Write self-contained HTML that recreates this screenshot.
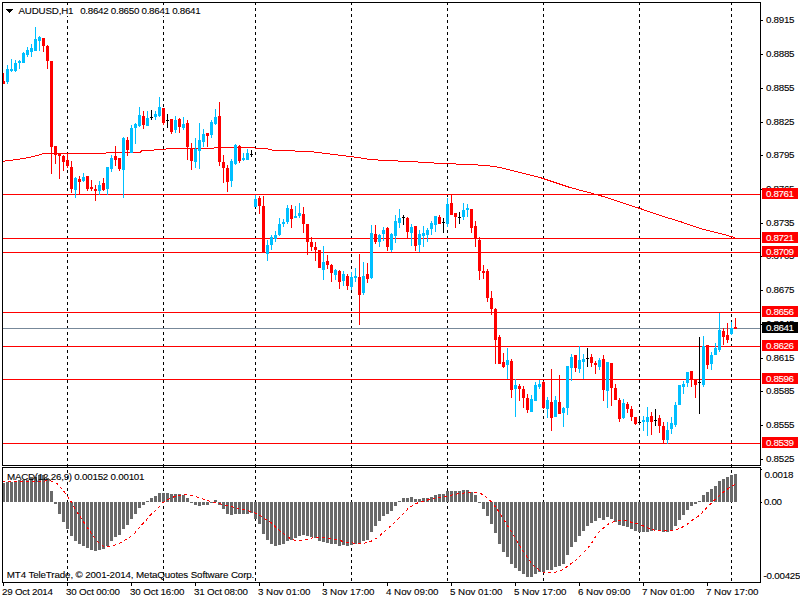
<!DOCTYPE html><html><head><meta charset="utf-8"><style>html,body{margin:0;padding:0;background:#fff;width:800px;height:600px;overflow:hidden}svg{display:block}text{font-family:"Liberation Sans",sans-serif}</style></head><body>
<svg width="800" height="600" viewBox="0 0 800 600">
<rect width="800" height="600" fill="#fff"/>
<g shape-rendering="crispEdges">
<line x1="67.5" y1="2" x2="67.5" y2="582" stroke="#000" stroke-width="1" stroke-dasharray="3 3" shape-rendering="crispEdges"/>
<line x1="163.5" y1="2" x2="163.5" y2="582" stroke="#000" stroke-width="1" stroke-dasharray="3 3" shape-rendering="crispEdges"/>
<line x1="255.5" y1="2" x2="255.5" y2="582" stroke="#000" stroke-width="1" stroke-dasharray="3 3" shape-rendering="crispEdges"/>
<line x1="351.5" y1="2" x2="351.5" y2="582" stroke="#000" stroke-width="1" stroke-dasharray="3 3" shape-rendering="crispEdges"/>
<line x1="447.5" y1="2" x2="447.5" y2="582" stroke="#000" stroke-width="1" stroke-dasharray="3 3" shape-rendering="crispEdges"/>
<line x1="543.5" y1="2" x2="543.5" y2="582" stroke="#000" stroke-width="1" stroke-dasharray="3 3" shape-rendering="crispEdges"/>
<line x1="639.5" y1="2" x2="639.5" y2="582" stroke="#000" stroke-width="1" stroke-dasharray="3 3" shape-rendering="crispEdges"/>
<line x1="731.5" y1="2" x2="731.5" y2="582" stroke="#000" stroke-width="1" stroke-dasharray="3 3" shape-rendering="crispEdges"/>
</g>
<g shape-rendering="crispEdges">
<rect x="3" y="194" width="757" height="1" fill="#ff0000"/>
<rect x="3" y="238" width="757" height="1" fill="#ff0000"/>
<rect x="3" y="252" width="757" height="1" fill="#ff0000"/>
<rect x="3" y="312" width="757" height="1" fill="#ff0000"/>
<rect x="3" y="346" width="757" height="1" fill="#ff0000"/>
<rect x="3" y="379" width="757" height="1" fill="#ff0000"/>
<rect x="3" y="443" width="757" height="1" fill="#ff0000"/>
<rect x="3" y="328" width="757" height="1" fill="#778899"/>
</g>
<polyline points="2,161.5 9,160.5 17,159.5 29,157.5 37,155.5 41,154.5 43,153.5 105,153.5 107,152.5 140,152.5 142,150.5 153,150.5 155,149.5 165,149.5 167,148.5 213,148.5 215,147.5 254,147.5 256,148.5 266,148.5 274,150.5 294,150.5 296,151.5 310,151.5 334,154.5 342,155.5 350,156.5 358,157.5 370,159.5 386,160.5 410,161.5 426,162.5 442,163.5 470,164.5 486,165.5 500,167.5 540,177.5 570,187.5 600,195.5 640,208.5 660,215.5 680,221.5 700,228.5 720,233.5 735,237.5" fill="none" stroke="#ff0000" stroke-width="1" shape-rendering="crispEdges"/>
<g shape-rendering="crispEdges">
<rect x="3" y="73" width="1" height="11" fill="#ff0000"/>
<rect x="3" y="81" width="2" height="3" fill="#ff0000"/>
<rect x="7" y="65" width="1" height="19" fill="#00bfff"/>
<rect x="6" y="69" width="3" height="13" fill="#00bfff"/>
<rect x="11" y="59" width="1" height="13" fill="#00bfff"/>
<rect x="10" y="69" width="3" height="2" fill="#00bfff"/>
<rect x="15" y="60" width="1" height="12" fill="#00bfff"/>
<rect x="14" y="63" width="3" height="8" fill="#00bfff"/>
<rect x="19" y="60" width="1" height="9" fill="#00bfff"/>
<rect x="18" y="61" width="3" height="2" fill="#00bfff"/>
<rect x="23" y="52" width="1" height="11" fill="#00bfff"/>
<rect x="22" y="53" width="3" height="10" fill="#00bfff"/>
<rect x="27" y="47" width="1" height="10" fill="#00bfff"/>
<rect x="26" y="50" width="3" height="5" fill="#00bfff"/>
<rect x="31" y="44" width="1" height="13" fill="#00bfff"/>
<rect x="30" y="48" width="3" height="4" fill="#00bfff"/>
<rect x="35" y="27" width="1" height="24" fill="#00bfff"/>
<rect x="34" y="39" width="3" height="12" fill="#00bfff"/>
<rect x="39" y="36" width="1" height="15" fill="#00bfff"/>
<rect x="38" y="37" width="3" height="4" fill="#00bfff"/>
<rect x="43" y="38" width="1" height="14" fill="#ff0000"/>
<rect x="42" y="38" width="3" height="8" fill="#ff0000"/>
<rect x="47" y="45" width="1" height="24" fill="#ff0000"/>
<rect x="46" y="46" width="3" height="15" fill="#ff0000"/>
<rect x="51" y="61" width="1" height="113" fill="#ff0000"/>
<rect x="50" y="61" width="3" height="86" fill="#ff0000"/>
<rect x="55" y="146" width="1" height="18" fill="#ff0000"/>
<rect x="54" y="146" width="3" height="9" fill="#ff0000"/>
<rect x="59" y="153" width="1" height="26" fill="#ff0000"/>
<rect x="58" y="153" width="3" height="3" fill="#ff0000"/>
<rect x="63" y="155" width="1" height="16" fill="#ff0000"/>
<rect x="62" y="156" width="3" height="6" fill="#ff0000"/>
<rect x="67" y="153" width="1" height="15" fill="#ff0000"/>
<rect x="66" y="160" width="3" height="6" fill="#ff0000"/>
<rect x="71" y="161" width="1" height="32" fill="#ff0000"/>
<rect x="70" y="167" width="3" height="22" fill="#ff0000"/>
<rect x="75" y="177" width="1" height="21" fill="#00bfff"/>
<rect x="74" y="178" width="3" height="12" fill="#00bfff"/>
<rect x="79" y="176" width="1" height="18" fill="#ff0000"/>
<rect x="78" y="179" width="3" height="3" fill="#ff0000"/>
<rect x="83" y="173" width="1" height="9" fill="#00bfff"/>
<rect x="82" y="177" width="3" height="4" fill="#00bfff"/>
<rect x="87" y="176" width="1" height="15" fill="#ff0000"/>
<rect x="86" y="176" width="3" height="13" fill="#ff0000"/>
<rect x="91" y="180" width="1" height="11" fill="#ff0000"/>
<rect x="90" y="187" width="3" height="2" fill="#ff0000"/>
<rect x="95" y="185" width="1" height="16" fill="#ff0000"/>
<rect x="94" y="189" width="3" height="2" fill="#ff0000"/>
<rect x="99" y="181" width="1" height="14" fill="#00bfff"/>
<rect x="98" y="185" width="3" height="6" fill="#00bfff"/>
<rect x="103" y="178" width="1" height="13" fill="#ff0000"/>
<rect x="102" y="183" width="3" height="7" fill="#ff0000"/>
<rect x="107" y="167" width="1" height="28" fill="#00bfff"/>
<rect x="106" y="167" width="3" height="22" fill="#00bfff"/>
<rect x="111" y="155" width="1" height="17" fill="#00bfff"/>
<rect x="110" y="158" width="3" height="11" fill="#00bfff"/>
<rect x="115" y="146" width="1" height="20" fill="#ff0000"/>
<rect x="114" y="156" width="3" height="4" fill="#ff0000"/>
<rect x="119" y="158" width="1" height="13" fill="#ff0000"/>
<rect x="118" y="158" width="3" height="11" fill="#ff0000"/>
<rect x="123" y="137" width="1" height="61" fill="#00bfff"/>
<rect x="122" y="138" width="3" height="32" fill="#00bfff"/>
<rect x="127" y="137" width="1" height="19" fill="#ff0000"/>
<rect x="126" y="140" width="3" height="10" fill="#ff0000"/>
<rect x="131" y="125" width="1" height="28" fill="#00bfff"/>
<rect x="130" y="128" width="3" height="25" fill="#00bfff"/>
<rect x="135" y="123" width="1" height="21" fill="#00bfff"/>
<rect x="134" y="124" width="3" height="4" fill="#00bfff"/>
<rect x="139" y="107" width="1" height="20" fill="#00bfff"/>
<rect x="138" y="115" width="3" height="11" fill="#00bfff"/>
<rect x="143" y="111" width="1" height="18" fill="#ff0000"/>
<rect x="142" y="116" width="3" height="9" fill="#ff0000"/>
<rect x="147" y="111" width="1" height="15" fill="#00bfff"/>
<rect x="146" y="118" width="3" height="8" fill="#00bfff"/>
<rect x="151" y="110" width="1" height="10" fill="#000"/>
<rect x="150" y="117" width="3" height="1" fill="#000"/>
<rect x="155" y="111" width="1" height="9" fill="#00bfff"/>
<rect x="154" y="114" width="3" height="3" fill="#00bfff"/>
<rect x="159" y="97" width="1" height="20" fill="#00bfff"/>
<rect x="158" y="107" width="3" height="9" fill="#00bfff"/>
<rect x="163" y="108" width="1" height="17" fill="#ff0000"/>
<rect x="162" y="108" width="3" height="15" fill="#ff0000"/>
<rect x="167" y="114" width="1" height="14" fill="#000"/>
<rect x="166" y="120" width="3" height="1" fill="#000"/>
<rect x="171" y="119" width="1" height="15" fill="#ff0000"/>
<rect x="170" y="119" width="3" height="13" fill="#ff0000"/>
<rect x="175" y="116" width="1" height="17" fill="#00bfff"/>
<rect x="174" y="120" width="3" height="10" fill="#00bfff"/>
<rect x="179" y="118" width="1" height="15" fill="#ff0000"/>
<rect x="178" y="119" width="3" height="8" fill="#ff0000"/>
<rect x="183" y="117" width="1" height="13" fill="#00bfff"/>
<rect x="182" y="124" width="3" height="4" fill="#00bfff"/>
<rect x="187" y="120" width="1" height="40" fill="#ff0000"/>
<rect x="186" y="123" width="3" height="24" fill="#ff0000"/>
<rect x="191" y="143" width="1" height="27" fill="#ff0000"/>
<rect x="190" y="148" width="3" height="13" fill="#ff0000"/>
<rect x="195" y="138" width="1" height="30" fill="#00bfff"/>
<rect x="194" y="149" width="3" height="13" fill="#00bfff"/>
<rect x="199" y="123" width="1" height="46" fill="#00bfff"/>
<rect x="198" y="140" width="3" height="11" fill="#00bfff"/>
<rect x="203" y="129" width="1" height="18" fill="#00bfff"/>
<rect x="202" y="134" width="3" height="8" fill="#00bfff"/>
<rect x="207" y="133" width="1" height="14" fill="#ff0000"/>
<rect x="206" y="133" width="3" height="3" fill="#ff0000"/>
<rect x="211" y="120" width="1" height="18" fill="#00bfff"/>
<rect x="210" y="122" width="3" height="13" fill="#00bfff"/>
<rect x="215" y="109" width="1" height="16" fill="#00bfff"/>
<rect x="214" y="117" width="3" height="7" fill="#00bfff"/>
<rect x="219" y="102" width="1" height="64" fill="#ff0000"/>
<rect x="218" y="116" width="3" height="46" fill="#ff0000"/>
<rect x="223" y="155" width="1" height="28" fill="#ff0000"/>
<rect x="222" y="162" width="3" height="6" fill="#ff0000"/>
<rect x="227" y="165" width="1" height="27" fill="#ff0000"/>
<rect x="226" y="168" width="3" height="14" fill="#ff0000"/>
<rect x="231" y="159" width="1" height="28" fill="#00bfff"/>
<rect x="230" y="161" width="3" height="20" fill="#00bfff"/>
<rect x="235" y="144" width="1" height="21" fill="#00bfff"/>
<rect x="234" y="145" width="3" height="19" fill="#00bfff"/>
<rect x="239" y="145" width="1" height="18" fill="#ff0000"/>
<rect x="238" y="146" width="3" height="15" fill="#ff0000"/>
<rect x="243" y="153" width="1" height="8" fill="#00bfff"/>
<rect x="242" y="158" width="3" height="2" fill="#00bfff"/>
<rect x="247" y="149" width="1" height="11" fill="#00bfff"/>
<rect x="246" y="153" width="3" height="7" fill="#00bfff"/>
<rect x="251" y="150" width="1" height="7" fill="#000"/>
<rect x="250" y="154" width="3" height="1" fill="#000"/>
<rect x="255" y="195" width="1" height="12" fill="#00bfff"/>
<rect x="254" y="199" width="3" height="8" fill="#00bfff"/>
<rect x="259" y="196" width="1" height="18" fill="#ff0000"/>
<rect x="258" y="198" width="3" height="8" fill="#ff0000"/>
<rect x="263" y="196" width="1" height="56" fill="#ff0000"/>
<rect x="262" y="206" width="3" height="46" fill="#ff0000"/>
<rect x="267" y="240" width="1" height="21" fill="#00bfff"/>
<rect x="266" y="245" width="3" height="9" fill="#00bfff"/>
<rect x="271" y="235" width="1" height="15" fill="#00bfff"/>
<rect x="270" y="237" width="3" height="8" fill="#00bfff"/>
<rect x="275" y="231" width="1" height="11" fill="#00bfff"/>
<rect x="274" y="235" width="3" height="4" fill="#00bfff"/>
<rect x="279" y="218" width="1" height="18" fill="#00bfff"/>
<rect x="278" y="224" width="3" height="11" fill="#00bfff"/>
<rect x="283" y="219" width="1" height="8" fill="#00bfff"/>
<rect x="282" y="222" width="3" height="2" fill="#00bfff"/>
<rect x="287" y="205" width="1" height="19" fill="#00bfff"/>
<rect x="286" y="208" width="3" height="14" fill="#00bfff"/>
<rect x="291" y="205" width="1" height="23" fill="#ff0000"/>
<rect x="290" y="209" width="3" height="10" fill="#ff0000"/>
<rect x="295" y="206" width="1" height="12" fill="#00bfff"/>
<rect x="294" y="216" width="3" height="2" fill="#00bfff"/>
<rect x="299" y="203" width="1" height="15" fill="#00bfff"/>
<rect x="298" y="213" width="3" height="3" fill="#00bfff"/>
<rect x="303" y="207" width="1" height="26" fill="#ff0000"/>
<rect x="302" y="214" width="3" height="10" fill="#ff0000"/>
<rect x="307" y="224" width="1" height="31" fill="#ff0000"/>
<rect x="306" y="224" width="3" height="18" fill="#ff0000"/>
<rect x="311" y="237" width="1" height="14" fill="#ff0000"/>
<rect x="310" y="242" width="3" height="5" fill="#ff0000"/>
<rect x="315" y="242" width="1" height="19" fill="#ff0000"/>
<rect x="314" y="247" width="3" height="3" fill="#ff0000"/>
<rect x="319" y="250" width="1" height="18" fill="#ff0000"/>
<rect x="318" y="250" width="3" height="18" fill="#ff0000"/>
<rect x="323" y="246" width="1" height="34" fill="#00bfff"/>
<rect x="322" y="262" width="3" height="8" fill="#00bfff"/>
<rect x="327" y="255" width="1" height="14" fill="#ff0000"/>
<rect x="326" y="261" width="3" height="4" fill="#ff0000"/>
<rect x="331" y="264" width="1" height="18" fill="#ff0000"/>
<rect x="330" y="265" width="3" height="8" fill="#ff0000"/>
<rect x="335" y="269" width="1" height="11" fill="#00bfff"/>
<rect x="334" y="270" width="3" height="5" fill="#00bfff"/>
<rect x="339" y="270" width="1" height="19" fill="#ff0000"/>
<rect x="338" y="271" width="3" height="11" fill="#ff0000"/>
<rect x="343" y="271" width="1" height="15" fill="#00bfff"/>
<rect x="342" y="274" width="3" height="7" fill="#00bfff"/>
<rect x="347" y="274" width="1" height="16" fill="#ff0000"/>
<rect x="346" y="276" width="3" height="10" fill="#ff0000"/>
<rect x="351" y="272" width="1" height="18" fill="#00bfff"/>
<rect x="350" y="277" width="3" height="10" fill="#00bfff"/>
<rect x="355" y="268" width="1" height="14" fill="#00bfff"/>
<rect x="354" y="276" width="3" height="2" fill="#00bfff"/>
<rect x="359" y="254" width="1" height="71" fill="#ff0000"/>
<rect x="358" y="277" width="3" height="18" fill="#ff0000"/>
<rect x="363" y="262" width="1" height="33" fill="#00bfff"/>
<rect x="362" y="276" width="3" height="17" fill="#00bfff"/>
<rect x="367" y="263" width="1" height="20" fill="#ff0000"/>
<rect x="366" y="274" width="3" height="5" fill="#ff0000"/>
<rect x="371" y="225" width="1" height="54" fill="#00bfff"/>
<rect x="370" y="233" width="3" height="45" fill="#00bfff"/>
<rect x="375" y="225" width="1" height="19" fill="#ff0000"/>
<rect x="374" y="234" width="3" height="8" fill="#ff0000"/>
<rect x="379" y="234" width="1" height="13" fill="#00bfff"/>
<rect x="378" y="235" width="3" height="7" fill="#00bfff"/>
<rect x="383" y="227" width="1" height="14" fill="#00bfff"/>
<rect x="382" y="230" width="3" height="4" fill="#00bfff"/>
<rect x="387" y="227" width="1" height="24" fill="#ff0000"/>
<rect x="386" y="228" width="3" height="19" fill="#ff0000"/>
<rect x="391" y="233" width="1" height="19" fill="#00bfff"/>
<rect x="390" y="234" width="3" height="16" fill="#00bfff"/>
<rect x="395" y="215" width="1" height="28" fill="#00bfff"/>
<rect x="394" y="221" width="3" height="15" fill="#00bfff"/>
<rect x="399" y="209" width="1" height="19" fill="#00bfff"/>
<rect x="398" y="218" width="3" height="5" fill="#00bfff"/>
<rect x="403" y="215" width="1" height="10" fill="#000"/>
<rect x="402" y="217" width="3" height="1" fill="#000"/>
<rect x="407" y="217" width="1" height="21" fill="#ff0000"/>
<rect x="406" y="218" width="3" height="14" fill="#ff0000"/>
<rect x="411" y="224" width="1" height="22" fill="#00bfff"/>
<rect x="410" y="227" width="3" height="6" fill="#00bfff"/>
<rect x="415" y="226" width="1" height="25" fill="#ff0000"/>
<rect x="414" y="226" width="3" height="20" fill="#ff0000"/>
<rect x="419" y="230" width="1" height="22" fill="#00bfff"/>
<rect x="418" y="234" width="3" height="11" fill="#00bfff"/>
<rect x="423" y="226" width="1" height="21" fill="#00bfff"/>
<rect x="422" y="233" width="3" height="3" fill="#00bfff"/>
<rect x="427" y="228" width="1" height="14" fill="#00bfff"/>
<rect x="426" y="230" width="3" height="5" fill="#00bfff"/>
<rect x="431" y="221" width="1" height="14" fill="#00bfff"/>
<rect x="430" y="223" width="3" height="6" fill="#00bfff"/>
<rect x="435" y="216" width="1" height="16" fill="#00bfff"/>
<rect x="434" y="216" width="3" height="9" fill="#00bfff"/>
<rect x="439" y="215" width="1" height="9" fill="#ff0000"/>
<rect x="438" y="217" width="3" height="7" fill="#ff0000"/>
<rect x="443" y="218" width="1" height="15" fill="#000"/>
<rect x="442" y="222" width="3" height="1" fill="#000"/>
<rect x="447" y="198" width="1" height="29" fill="#00bfff"/>
<rect x="446" y="204" width="3" height="20" fill="#00bfff"/>
<rect x="451" y="195" width="1" height="20" fill="#ff0000"/>
<rect x="450" y="203" width="3" height="12" fill="#ff0000"/>
<rect x="455" y="213" width="1" height="15" fill="#ff0000"/>
<rect x="454" y="213" width="3" height="4" fill="#ff0000"/>
<rect x="459" y="212" width="1" height="12" fill="#000"/>
<rect x="458" y="217" width="3" height="1" fill="#000"/>
<rect x="463" y="203" width="1" height="17" fill="#00bfff"/>
<rect x="462" y="210" width="3" height="7" fill="#00bfff"/>
<rect x="467" y="204" width="1" height="13" fill="#00bfff"/>
<rect x="466" y="208" width="3" height="2" fill="#00bfff"/>
<rect x="471" y="209" width="1" height="24" fill="#ff0000"/>
<rect x="470" y="209" width="3" height="19" fill="#ff0000"/>
<rect x="475" y="221" width="1" height="26" fill="#ff0000"/>
<rect x="474" y="226" width="3" height="12" fill="#ff0000"/>
<rect x="479" y="237" width="1" height="43" fill="#ff0000"/>
<rect x="478" y="240" width="3" height="31" fill="#ff0000"/>
<rect x="483" y="265" width="1" height="14" fill="#ff0000"/>
<rect x="482" y="271" width="3" height="2" fill="#ff0000"/>
<rect x="487" y="269" width="1" height="33" fill="#ff0000"/>
<rect x="486" y="271" width="3" height="27" fill="#ff0000"/>
<rect x="491" y="291" width="1" height="24" fill="#ff0000"/>
<rect x="490" y="298" width="3" height="11" fill="#ff0000"/>
<rect x="495" y="308" width="1" height="56" fill="#ff0000"/>
<rect x="494" y="309" width="3" height="31" fill="#ff0000"/>
<rect x="499" y="335" width="1" height="29" fill="#ff0000"/>
<rect x="498" y="337" width="3" height="27" fill="#ff0000"/>
<rect x="503" y="353" width="1" height="15" fill="#ff0000"/>
<rect x="502" y="362" width="3" height="5" fill="#ff0000"/>
<rect x="507" y="348" width="1" height="31" fill="#00bfff"/>
<rect x="506" y="360" width="3" height="5" fill="#00bfff"/>
<rect x="511" y="359" width="1" height="39" fill="#ff0000"/>
<rect x="510" y="361" width="3" height="29" fill="#ff0000"/>
<rect x="515" y="379" width="1" height="38" fill="#00bfff"/>
<rect x="514" y="385" width="3" height="4" fill="#00bfff"/>
<rect x="519" y="384" width="1" height="17" fill="#ff0000"/>
<rect x="518" y="386" width="3" height="3" fill="#ff0000"/>
<rect x="523" y="386" width="1" height="22" fill="#ff0000"/>
<rect x="522" y="389" width="3" height="9" fill="#ff0000"/>
<rect x="527" y="394" width="1" height="19" fill="#ff0000"/>
<rect x="526" y="398" width="3" height="12" fill="#ff0000"/>
<rect x="531" y="395" width="1" height="17" fill="#00bfff"/>
<rect x="530" y="399" width="3" height="13" fill="#00bfff"/>
<rect x="535" y="382" width="1" height="19" fill="#00bfff"/>
<rect x="534" y="385" width="3" height="16" fill="#00bfff"/>
<rect x="539" y="380" width="1" height="9" fill="#00bfff"/>
<rect x="538" y="384" width="3" height="3" fill="#00bfff"/>
<rect x="543" y="381" width="1" height="28" fill="#ff0000"/>
<rect x="542" y="382" width="3" height="26" fill="#ff0000"/>
<rect x="547" y="397" width="1" height="21" fill="#00bfff"/>
<rect x="546" y="400" width="3" height="9" fill="#00bfff"/>
<rect x="551" y="369" width="1" height="62" fill="#ff0000"/>
<rect x="550" y="402" width="3" height="16" fill="#ff0000"/>
<rect x="555" y="396" width="1" height="21" fill="#00bfff"/>
<rect x="554" y="400" width="3" height="17" fill="#00bfff"/>
<rect x="559" y="375" width="1" height="39" fill="#ff0000"/>
<rect x="558" y="402" width="3" height="12" fill="#ff0000"/>
<rect x="563" y="407" width="1" height="20" fill="#00bfff"/>
<rect x="562" y="408" width="3" height="5" fill="#00bfff"/>
<rect x="567" y="366" width="1" height="49" fill="#00bfff"/>
<rect x="566" y="366" width="3" height="42" fill="#00bfff"/>
<rect x="571" y="354" width="1" height="27" fill="#00bfff"/>
<rect x="570" y="357" width="3" height="11" fill="#00bfff"/>
<rect x="575" y="355" width="1" height="17" fill="#ff0000"/>
<rect x="574" y="355" width="3" height="13" fill="#ff0000"/>
<rect x="579" y="346" width="1" height="27" fill="#00bfff"/>
<rect x="578" y="360" width="3" height="9" fill="#00bfff"/>
<rect x="583" y="354" width="1" height="25" fill="#00bfff"/>
<rect x="582" y="359" width="3" height="3" fill="#00bfff"/>
<rect x="587" y="348" width="1" height="19" fill="#000"/>
<rect x="586" y="358" width="3" height="1" fill="#000"/>
<rect x="591" y="354" width="1" height="13" fill="#ff0000"/>
<rect x="590" y="357" width="3" height="6" fill="#ff0000"/>
<rect x="595" y="361" width="1" height="13" fill="#ff0000"/>
<rect x="594" y="363" width="3" height="2" fill="#ff0000"/>
<rect x="599" y="358" width="1" height="12" fill="#00bfff"/>
<rect x="598" y="360" width="3" height="7" fill="#00bfff"/>
<rect x="603" y="355" width="1" height="46" fill="#ff0000"/>
<rect x="602" y="359" width="3" height="31" fill="#ff0000"/>
<rect x="607" y="362" width="1" height="46" fill="#00bfff"/>
<rect x="606" y="362" width="3" height="29" fill="#00bfff"/>
<rect x="611" y="363" width="1" height="43" fill="#ff0000"/>
<rect x="610" y="363" width="3" height="25" fill="#ff0000"/>
<rect x="615" y="384" width="1" height="16" fill="#ff0000"/>
<rect x="614" y="388" width="3" height="12" fill="#ff0000"/>
<rect x="619" y="398" width="1" height="24" fill="#ff0000"/>
<rect x="618" y="400" width="3" height="19" fill="#ff0000"/>
<rect x="623" y="399" width="1" height="20" fill="#00bfff"/>
<rect x="622" y="403" width="3" height="15" fill="#00bfff"/>
<rect x="627" y="402" width="1" height="11" fill="#ff0000"/>
<rect x="626" y="404" width="3" height="5" fill="#ff0000"/>
<rect x="631" y="406" width="1" height="15" fill="#ff0000"/>
<rect x="630" y="409" width="3" height="8" fill="#ff0000"/>
<rect x="635" y="417" width="1" height="8" fill="#ff0000"/>
<rect x="634" y="417" width="3" height="7" fill="#ff0000"/>
<rect x="639" y="417" width="1" height="8" fill="#000"/>
<rect x="638" y="422" width="3" height="1" fill="#000"/>
<rect x="643" y="416" width="1" height="15" fill="#00bfff"/>
<rect x="642" y="420" width="3" height="2" fill="#00bfff"/>
<rect x="647" y="407" width="1" height="29" fill="#00bfff"/>
<rect x="646" y="417" width="3" height="5" fill="#00bfff"/>
<rect x="651" y="412" width="1" height="23" fill="#ff0000"/>
<rect x="650" y="416" width="3" height="6" fill="#ff0000"/>
<rect x="655" y="409" width="1" height="17" fill="#000"/>
<rect x="654" y="420" width="3" height="1" fill="#000"/>
<rect x="659" y="415" width="1" height="18" fill="#ff0000"/>
<rect x="658" y="418" width="3" height="8" fill="#ff0000"/>
<rect x="663" y="422" width="1" height="21" fill="#ff0000"/>
<rect x="662" y="426" width="3" height="14" fill="#ff0000"/>
<rect x="667" y="422" width="1" height="22" fill="#00bfff"/>
<rect x="666" y="430" width="3" height="10" fill="#00bfff"/>
<rect x="671" y="417" width="1" height="17" fill="#00bfff"/>
<rect x="670" y="423" width="3" height="6" fill="#00bfff"/>
<rect x="675" y="402" width="1" height="25" fill="#00bfff"/>
<rect x="674" y="405" width="3" height="20" fill="#00bfff"/>
<rect x="679" y="385" width="1" height="20" fill="#00bfff"/>
<rect x="678" y="385" width="3" height="20" fill="#00bfff"/>
<rect x="683" y="381" width="1" height="13" fill="#00bfff"/>
<rect x="682" y="384" width="3" height="3" fill="#00bfff"/>
<rect x="687" y="372" width="1" height="15" fill="#00bfff"/>
<rect x="686" y="372" width="3" height="11" fill="#00bfff"/>
<rect x="691" y="371" width="1" height="16" fill="#ff0000"/>
<rect x="690" y="371" width="3" height="9" fill="#ff0000"/>
<rect x="695" y="379" width="1" height="19" fill="#ff0000"/>
<rect x="694" y="380" width="3" height="5" fill="#ff0000"/>
<rect x="699" y="337" width="1" height="77" fill="#000"/>
<rect x="698" y="382" width="3" height="1" fill="#000"/>
<rect x="703" y="336" width="1" height="51" fill="#00bfff"/>
<rect x="702" y="346" width="3" height="39" fill="#00bfff"/>
<rect x="707" y="345" width="1" height="24" fill="#ff0000"/>
<rect x="706" y="345" width="3" height="20" fill="#ff0000"/>
<rect x="711" y="352" width="1" height="18" fill="#00bfff"/>
<rect x="710" y="355" width="3" height="9" fill="#00bfff"/>
<rect x="715" y="343" width="1" height="12" fill="#00bfff"/>
<rect x="714" y="348" width="3" height="7" fill="#00bfff"/>
<rect x="719" y="313" width="1" height="39" fill="#00bfff"/>
<rect x="718" y="330" width="3" height="20" fill="#00bfff"/>
<rect x="723" y="328" width="1" height="17" fill="#ff0000"/>
<rect x="722" y="331" width="3" height="6" fill="#ff0000"/>
<rect x="727" y="323" width="1" height="20" fill="#ff0000"/>
<rect x="726" y="335" width="3" height="5" fill="#ff0000"/>
<rect x="731" y="322" width="1" height="13" fill="#00bfff"/>
<rect x="730" y="328" width="3" height="6" fill="#00bfff"/>
<rect x="735" y="318" width="1" height="11" fill="#ff0000"/>
<rect x="734" y="327" width="3" height="2" fill="#ff0000"/>
</g>
<g shape-rendering="crispEdges">
<rect x="3" y="483" width="2" height="19" fill="#696969"/>
<rect x="6" y="482" width="3" height="20" fill="#696969"/>
<rect x="10" y="482" width="3" height="20" fill="#696969"/>
<rect x="14" y="481" width="3" height="21" fill="#696969"/>
<rect x="18" y="480" width="3" height="22" fill="#696969"/>
<rect x="22" y="480" width="3" height="22" fill="#696969"/>
<rect x="26" y="480" width="3" height="22" fill="#696969"/>
<rect x="30" y="477" width="3" height="25" fill="#696969"/>
<rect x="34" y="477" width="3" height="25" fill="#696969"/>
<rect x="38" y="475" width="3" height="27" fill="#696969"/>
<rect x="42" y="475" width="3" height="27" fill="#696969"/>
<rect x="46" y="478" width="3" height="24" fill="#696969"/>
<rect x="50" y="491" width="3" height="11" fill="#696969"/>
<rect x="54" y="502" width="3" height="2" fill="#696969"/>
<rect x="58" y="502" width="3" height="12" fill="#696969"/>
<rect x="62" y="502" width="3" height="20" fill="#696969"/>
<rect x="66" y="502" width="3" height="27" fill="#696969"/>
<rect x="70" y="502" width="3" height="34" fill="#696969"/>
<rect x="74" y="502" width="3" height="39" fill="#696969"/>
<rect x="78" y="502" width="3" height="42" fill="#696969"/>
<rect x="82" y="502" width="3" height="44" fill="#696969"/>
<rect x="86" y="502" width="3" height="46" fill="#696969"/>
<rect x="90" y="502" width="3" height="48" fill="#696969"/>
<rect x="94" y="502" width="3" height="49" fill="#696969"/>
<rect x="98" y="502" width="3" height="48" fill="#696969"/>
<rect x="102" y="502" width="3" height="47" fill="#696969"/>
<rect x="106" y="502" width="3" height="44" fill="#696969"/>
<rect x="110" y="502" width="3" height="39" fill="#696969"/>
<rect x="114" y="502" width="3" height="35" fill="#696969"/>
<rect x="118" y="502" width="3" height="33" fill="#696969"/>
<rect x="122" y="502" width="3" height="27" fill="#696969"/>
<rect x="126" y="502" width="3" height="23" fill="#696969"/>
<rect x="130" y="502" width="3" height="17" fill="#696969"/>
<rect x="134" y="502" width="3" height="12" fill="#696969"/>
<rect x="138" y="502" width="3" height="6" fill="#696969"/>
<rect x="142" y="502" width="3" height="3" fill="#696969"/>
<rect x="146" y="501" width="3" height="1" fill="#696969"/>
<rect x="150" y="498" width="3" height="4" fill="#696969"/>
<rect x="154" y="496" width="3" height="6" fill="#696969"/>
<rect x="158" y="493" width="3" height="9" fill="#696969"/>
<rect x="162" y="493" width="3" height="9" fill="#696969"/>
<rect x="166" y="493" width="3" height="9" fill="#696969"/>
<rect x="170" y="494" width="3" height="8" fill="#696969"/>
<rect x="174" y="494" width="3" height="8" fill="#696969"/>
<rect x="178" y="494" width="3" height="8" fill="#696969"/>
<rect x="182" y="495" width="3" height="7" fill="#696969"/>
<rect x="186" y="498" width="3" height="4" fill="#696969"/>
<rect x="190" y="502" width="3" height="1" fill="#696969"/>
<rect x="194" y="502" width="3" height="3" fill="#696969"/>
<rect x="198" y="502" width="3" height="4" fill="#696969"/>
<rect x="202" y="502" width="3" height="3" fill="#696969"/>
<rect x="206" y="502" width="3" height="3" fill="#696969"/>
<rect x="210" y="502" width="3" height="1" fill="#696969"/>
<rect x="214" y="500" width="3" height="2" fill="#696969"/>
<rect x="218" y="502" width="3" height="3" fill="#696969"/>
<rect x="222" y="502" width="3" height="7" fill="#696969"/>
<rect x="226" y="502" width="3" height="12" fill="#696969"/>
<rect x="230" y="502" width="3" height="13" fill="#696969"/>
<rect x="234" y="502" width="3" height="12" fill="#696969"/>
<rect x="238" y="502" width="3" height="12" fill="#696969"/>
<rect x="242" y="502" width="3" height="12" fill="#696969"/>
<rect x="246" y="502" width="3" height="12" fill="#696969"/>
<rect x="250" y="502" width="3" height="11" fill="#696969"/>
<rect x="254" y="502" width="3" height="17" fill="#696969"/>
<rect x="258" y="502" width="3" height="22" fill="#696969"/>
<rect x="262" y="502" width="3" height="32" fill="#696969"/>
<rect x="266" y="502" width="3" height="38" fill="#696969"/>
<rect x="270" y="502" width="3" height="42" fill="#696969"/>
<rect x="274" y="502" width="3" height="44" fill="#696969"/>
<rect x="278" y="502" width="3" height="43" fill="#696969"/>
<rect x="282" y="502" width="3" height="42" fill="#696969"/>
<rect x="286" y="502" width="3" height="39" fill="#696969"/>
<rect x="290" y="502" width="3" height="38" fill="#696969"/>
<rect x="294" y="502" width="3" height="36" fill="#696969"/>
<rect x="298" y="502" width="3" height="34" fill="#696969"/>
<rect x="302" y="502" width="3" height="33" fill="#696969"/>
<rect x="306" y="502" width="3" height="34" fill="#696969"/>
<rect x="310" y="502" width="3" height="35" fill="#696969"/>
<rect x="314" y="502" width="3" height="36" fill="#696969"/>
<rect x="318" y="502" width="3" height="39" fill="#696969"/>
<rect x="322" y="502" width="3" height="40" fill="#696969"/>
<rect x="326" y="502" width="3" height="41" fill="#696969"/>
<rect x="330" y="502" width="3" height="42" fill="#696969"/>
<rect x="334" y="502" width="3" height="42" fill="#696969"/>
<rect x="338" y="502" width="3" height="44" fill="#696969"/>
<rect x="342" y="502" width="3" height="43" fill="#696969"/>
<rect x="346" y="502" width="3" height="44" fill="#696969"/>
<rect x="350" y="502" width="3" height="43" fill="#696969"/>
<rect x="354" y="502" width="3" height="42" fill="#696969"/>
<rect x="358" y="502" width="3" height="42" fill="#696969"/>
<rect x="362" y="502" width="3" height="39" fill="#696969"/>
<rect x="366" y="502" width="3" height="38" fill="#696969"/>
<rect x="370" y="502" width="3" height="30" fill="#696969"/>
<rect x="374" y="502" width="3" height="24" fill="#696969"/>
<rect x="378" y="502" width="3" height="19" fill="#696969"/>
<rect x="382" y="502" width="3" height="14" fill="#696969"/>
<rect x="386" y="502" width="3" height="12" fill="#696969"/>
<rect x="390" y="502" width="3" height="9" fill="#696969"/>
<rect x="394" y="502" width="3" height="4" fill="#696969"/>
<rect x="398" y="501" width="3" height="1" fill="#696969"/>
<rect x="402" y="498" width="3" height="4" fill="#696969"/>
<rect x="406" y="498" width="3" height="4" fill="#696969"/>
<rect x="410" y="497" width="3" height="5" fill="#696969"/>
<rect x="414" y="499" width="3" height="3" fill="#696969"/>
<rect x="418" y="499" width="3" height="3" fill="#696969"/>
<rect x="422" y="498" width="3" height="4" fill="#696969"/>
<rect x="426" y="498" width="3" height="4" fill="#696969"/>
<rect x="430" y="497" width="3" height="5" fill="#696969"/>
<rect x="434" y="495" width="3" height="7" fill="#696969"/>
<rect x="438" y="494" width="3" height="8" fill="#696969"/>
<rect x="442" y="494" width="3" height="8" fill="#696969"/>
<rect x="446" y="491" width="3" height="11" fill="#696969"/>
<rect x="450" y="491" width="3" height="11" fill="#696969"/>
<rect x="454" y="491" width="3" height="11" fill="#696969"/>
<rect x="458" y="491" width="3" height="11" fill="#696969"/>
<rect x="462" y="490" width="3" height="12" fill="#696969"/>
<rect x="466" y="490" width="3" height="12" fill="#696969"/>
<rect x="470" y="492" width="3" height="10" fill="#696969"/>
<rect x="474" y="495" width="3" height="7" fill="#696969"/>
<rect x="478" y="502" width="3" height="1" fill="#696969"/>
<rect x="482" y="502" width="3" height="7" fill="#696969"/>
<rect x="486" y="502" width="3" height="14" fill="#696969"/>
<rect x="490" y="502" width="3" height="22" fill="#696969"/>
<rect x="494" y="502" width="3" height="31" fill="#696969"/>
<rect x="498" y="502" width="3" height="42" fill="#696969"/>
<rect x="502" y="502" width="3" height="50" fill="#696969"/>
<rect x="506" y="502" width="3" height="55" fill="#696969"/>
<rect x="510" y="502" width="3" height="62" fill="#696969"/>
<rect x="514" y="502" width="3" height="66" fill="#696969"/>
<rect x="518" y="502" width="3" height="69" fill="#696969"/>
<rect x="522" y="502" width="3" height="72" fill="#696969"/>
<rect x="526" y="502" width="3" height="75" fill="#696969"/>
<rect x="530" y="502" width="3" height="75" fill="#696969"/>
<rect x="534" y="502" width="3" height="72" fill="#696969"/>
<rect x="538" y="502" width="3" height="70" fill="#696969"/>
<rect x="542" y="502" width="3" height="70" fill="#696969"/>
<rect x="546" y="502" width="3" height="68" fill="#696969"/>
<rect x="550" y="502" width="3" height="68" fill="#696969"/>
<rect x="554" y="502" width="3" height="65" fill="#696969"/>
<rect x="558" y="502" width="3" height="64" fill="#696969"/>
<rect x="562" y="502" width="3" height="62" fill="#696969"/>
<rect x="566" y="502" width="3" height="53" fill="#696969"/>
<rect x="570" y="502" width="3" height="45" fill="#696969"/>
<rect x="574" y="502" width="3" height="40" fill="#696969"/>
<rect x="578" y="502" width="3" height="34" fill="#696969"/>
<rect x="582" y="502" width="3" height="29" fill="#696969"/>
<rect x="586" y="502" width="3" height="24" fill="#696969"/>
<rect x="590" y="502" width="3" height="21" fill="#696969"/>
<rect x="594" y="502" width="3" height="19" fill="#696969"/>
<rect x="598" y="502" width="3" height="16" fill="#696969"/>
<rect x="602" y="502" width="3" height="18" fill="#696969"/>
<rect x="606" y="502" width="3" height="15" fill="#696969"/>
<rect x="610" y="502" width="3" height="17" fill="#696969"/>
<rect x="614" y="502" width="3" height="20" fill="#696969"/>
<rect x="618" y="502" width="3" height="23" fill="#696969"/>
<rect x="622" y="502" width="3" height="24" fill="#696969"/>
<rect x="626" y="502" width="3" height="25" fill="#696969"/>
<rect x="630" y="502" width="3" height="27" fill="#696969"/>
<rect x="634" y="502" width="3" height="29" fill="#696969"/>
<rect x="638" y="502" width="3" height="30" fill="#696969"/>
<rect x="642" y="502" width="3" height="30" fill="#696969"/>
<rect x="646" y="502" width="3" height="30" fill="#696969"/>
<rect x="650" y="502" width="3" height="29" fill="#696969"/>
<rect x="654" y="502" width="3" height="28" fill="#696969"/>
<rect x="658" y="502" width="3" height="29" fill="#696969"/>
<rect x="662" y="502" width="3" height="30" fill="#696969"/>
<rect x="666" y="502" width="3" height="30" fill="#696969"/>
<rect x="670" y="502" width="3" height="28" fill="#696969"/>
<rect x="674" y="502" width="3" height="24" fill="#696969"/>
<rect x="678" y="502" width="3" height="18" fill="#696969"/>
<rect x="682" y="502" width="3" height="13" fill="#696969"/>
<rect x="686" y="502" width="3" height="8" fill="#696969"/>
<rect x="690" y="502" width="3" height="4" fill="#696969"/>
<rect x="694" y="502" width="3" height="2" fill="#696969"/>
<rect x="698" y="501" width="3" height="1" fill="#696969"/>
<rect x="702" y="495" width="3" height="7" fill="#696969"/>
<rect x="706" y="492" width="3" height="10" fill="#696969"/>
<rect x="710" y="489" width="3" height="13" fill="#696969"/>
<rect x="714" y="486" width="3" height="16" fill="#696969"/>
<rect x="718" y="481" width="3" height="21" fill="#696969"/>
<rect x="722" y="479" width="3" height="23" fill="#696969"/>
<rect x="726" y="477" width="3" height="25" fill="#696969"/>
<rect x="730" y="475" width="3" height="27" fill="#696969"/>
<rect x="734" y="474" width="3" height="28" fill="#696969"/>
</g>
<polyline points="2,481.5 40,481.5 50,480.5 57,483.5 63,490 68,497 72,503 75,509 79,515 83,521 87,527 91,533 95,538 99,543 103,546 107,546.5 111,546.5 115,545 119,543.5 128,538.5 135,532.8 140,526.5 146,520.5 151,514.5 157,509 163,502.5 170,498.5 176,496 182,494.8 188,494.5 194,496 199,497.8 205,499.8 211,501.5 217,502.8 223,504.5 229,505.8 235,507.5 241,508.8 247,510.5 253,512 259,514.8 265,518.8 271,522.5 277,528.5 283,533.5 289,537.8 295,540.5 301,541 307,539.5 313,537.8 319,537.5 325,537.5 331,538.5 337,539.5 343,541.5 349,542.7 356,543.3 362,543.3 368,542.7 373,540.3 379,536.7 384,531.7 390,526.7 397,520.3 402,515 408,508.7 414,504.7 420,501.8 426,500.5 432,498.5 438,497.5 444,497 450,495.5 456,494.2 462,493.2 468,492.5 474,492.5 480,493 486,497 491,501.6 497,508.7 502,517 507,524.7 511,531.3 515,538 519,544.7 523,550.7 527,556.7 531,562.7 535,567.3 540,570.4 544,572.3 548,572.7 554,572.7 560,571 565,568 571,563.7 577,559 583,553 589,546.7 593,541 597,534.3 603,528.3 609,523.7 615,521.4 621,520.3 627,521 633,522.7 639,524.3 646,527 651,529.7 656,530.3 663,531 669,530.3 675,530.3 681,528 687,524.3 693,519.7 700,515 705,509.5 711,503.5 717,497.8 723,492.5 729,487.8 735,484.5" fill="none" stroke="#ff0000" stroke-width="1" stroke-dasharray="3 3" shape-rendering="crispEdges"/>
<g shape-rendering="crispEdges" fill="#000">
<rect x="2" y="2" width="759" height="1"/>
<rect x="2" y="465" width="759" height="1"/>
<rect x="2" y="2" width="1" height="464"/>
<rect x="760" y="2" width="1" height="464"/>
<rect x="2" y="467" width="759" height="1"/>
<rect x="2" y="582" width="759" height="1"/>
<rect x="2" y="467" width="1" height="116"/>
<rect x="760" y="467" width="1" height="116"/>
<rect x="761" y="20" width="2" height="1"/>
<rect x="761" y="54" width="2" height="1"/>
<rect x="761" y="88" width="2" height="1"/>
<rect x="761" y="122" width="2" height="1"/>
<rect x="761" y="155" width="2" height="1"/>
<rect x="761" y="189" width="2" height="1"/>
<rect x="761" y="223" width="2" height="1"/>
<rect x="761" y="256" width="2" height="1"/>
<rect x="761" y="290" width="2" height="1"/>
<rect x="761" y="324" width="2" height="1"/>
<rect x="761" y="358" width="2" height="1"/>
<rect x="761" y="391" width="2" height="1"/>
<rect x="761" y="425" width="2" height="1"/>
<rect x="761" y="459" width="2" height="1"/>
<rect x="761" y="469" width="1" height="1"/>
<rect x="761" y="502" width="1" height="1"/>
<rect x="3" y="583" width="1" height="3"/>
<rect x="67" y="583" width="1" height="3"/>
<rect x="131" y="583" width="1" height="3"/>
<rect x="195" y="583" width="1" height="3"/>
<rect x="259" y="583" width="1" height="3"/>
<rect x="323" y="583" width="1" height="3"/>
<rect x="387" y="583" width="1" height="3"/>
<rect x="451" y="583" width="1" height="3"/>
<rect x="515" y="583" width="1" height="3"/>
<rect x="579" y="583" width="1" height="3"/>
<rect x="643" y="583" width="1" height="3"/>
<rect x="707" y="583" width="1" height="3"/>
</g>
<text x="766" y="23" fill="#000" stroke="#000" stroke-width="0.1" font-size="9.8" textLength="28.5" lengthAdjust="spacing">0.8915</text>
<text x="766" y="57" fill="#000" stroke="#000" stroke-width="0.1" font-size="9.8" textLength="28.5" lengthAdjust="spacing">0.8885</text>
<text x="766" y="91" fill="#000" stroke="#000" stroke-width="0.1" font-size="9.8" textLength="28.5" lengthAdjust="spacing">0.8855</text>
<text x="766" y="125" fill="#000" stroke="#000" stroke-width="0.1" font-size="9.8" textLength="28.5" lengthAdjust="spacing">0.8825</text>
<text x="766" y="158" fill="#000" stroke="#000" stroke-width="0.1" font-size="9.8" textLength="28.5" lengthAdjust="spacing">0.8795</text>
<text x="766" y="192" fill="#000" stroke="#000" stroke-width="0.1" font-size="9.8" textLength="28.5" lengthAdjust="spacing">0.8765</text>
<text x="766" y="226" fill="#000" stroke="#000" stroke-width="0.1" font-size="9.8" textLength="28.5" lengthAdjust="spacing">0.8735</text>
<text x="766" y="259" fill="#000" stroke="#000" stroke-width="0.1" font-size="9.8" textLength="28.5" lengthAdjust="spacing">0.8705</text>
<text x="766" y="293" fill="#000" stroke="#000" stroke-width="0.1" font-size="9.8" textLength="28.5" lengthAdjust="spacing">0.8675</text>
<text x="766" y="327" fill="#000" stroke="#000" stroke-width="0.1" font-size="9.8" textLength="28.5" lengthAdjust="spacing">0.8645</text>
<text x="766" y="361" fill="#000" stroke="#000" stroke-width="0.1" font-size="9.8" textLength="28.5" lengthAdjust="spacing">0.8615</text>
<text x="766" y="394" fill="#000" stroke="#000" stroke-width="0.1" font-size="9.8" textLength="28.5" lengthAdjust="spacing">0.8585</text>
<text x="766" y="428" fill="#000" stroke="#000" stroke-width="0.1" font-size="9.8" textLength="28.5" lengthAdjust="spacing">0.8555</text>
<text x="766" y="462" fill="#000" stroke="#000" stroke-width="0.1" font-size="9.8" textLength="28.5" lengthAdjust="spacing">0.8525</text>
<rect x="762" y="188" width="36" height="11" fill="#ff0000" shape-rendering="crispEdges"/>
<text x="766" y="197" fill="#fff" stroke="#fff" stroke-width="0.1" font-size="9.8" textLength="28" lengthAdjust="spacing">0.8761</text>
<rect x="762" y="232" width="36" height="11" fill="#ff0000" shape-rendering="crispEdges"/>
<text x="766" y="241" fill="#fff" stroke="#fff" stroke-width="0.1" font-size="9.8" textLength="28" lengthAdjust="spacing">0.8721</text>
<rect x="762" y="246" width="36" height="11" fill="#ff0000" shape-rendering="crispEdges"/>
<text x="766" y="255" fill="#fff" stroke="#fff" stroke-width="0.1" font-size="9.8" textLength="28" lengthAdjust="spacing">0.8709</text>
<rect x="762" y="306" width="36" height="11" fill="#ff0000" shape-rendering="crispEdges"/>
<text x="766" y="315" fill="#fff" stroke="#fff" stroke-width="0.1" font-size="9.8" textLength="28" lengthAdjust="spacing">0.8656</text>
<rect x="762" y="322" width="36" height="11" fill="#000" shape-rendering="crispEdges"/>
<text x="766" y="331" fill="#fff" stroke="#fff" stroke-width="0.1" font-size="9.8" textLength="28" lengthAdjust="spacing">0.8641</text>
<rect x="762" y="340" width="36" height="11" fill="#ff0000" shape-rendering="crispEdges"/>
<text x="766" y="349" fill="#fff" stroke="#fff" stroke-width="0.1" font-size="9.8" textLength="28" lengthAdjust="spacing">0.8626</text>
<rect x="762" y="373" width="36" height="11" fill="#ff0000" shape-rendering="crispEdges"/>
<text x="766" y="382" fill="#fff" stroke="#fff" stroke-width="0.1" font-size="9.8" textLength="28" lengthAdjust="spacing">0.8596</text>
<rect x="762" y="437" width="36" height="11" fill="#ff0000" shape-rendering="crispEdges"/>
<text x="766" y="446" fill="#fff" stroke="#fff" stroke-width="0.1" font-size="9.8" textLength="28" lengthAdjust="spacing">0.8539</text>
<text x="764.5" y="478" fill="#000" stroke="#000" stroke-width="0.1" font-size="9.8" textLength="29" lengthAdjust="spacing">0.0018</text>
<text x="764" y="505" fill="#000" stroke="#000" stroke-width="0.1" font-size="9.8" textLength="18" lengthAdjust="spacing">0.00</text>
<text x="763.5" y="579" fill="#000" stroke="#000" stroke-width="0.1" font-size="9.8" textLength="37" lengthAdjust="spacing">-0.00425</text>
<text x="2" y="595" fill="#000" stroke="#000" stroke-width="0.1" font-size="9.8" textLength="51" lengthAdjust="spacing">29 Oct 2014</text>
<text x="66" y="595" fill="#000" stroke="#000" stroke-width="0.1" font-size="9.8" textLength="54" lengthAdjust="spacing">30 Oct 00:00</text>
<text x="130" y="595" fill="#000" stroke="#000" stroke-width="0.1" font-size="9.8" textLength="54.5" lengthAdjust="spacing">30 Oct 16:00</text>
<text x="194" y="595" fill="#000" stroke="#000" stroke-width="0.1" font-size="9.8" textLength="54" lengthAdjust="spacing">31 Oct 08:00</text>
<text x="258" y="595" fill="#000" stroke="#000" stroke-width="0.1" font-size="9.8" textLength="52.5" lengthAdjust="spacing">3 Nov 01:00</text>
<text x="322" y="595" fill="#000" stroke="#000" stroke-width="0.1" font-size="9.8" textLength="52.5" lengthAdjust="spacing">3 Nov 17:00</text>
<text x="386" y="595" fill="#000" stroke="#000" stroke-width="0.1" font-size="9.8" textLength="52.5" lengthAdjust="spacing">4 Nov 09:00</text>
<text x="450" y="595" fill="#000" stroke="#000" stroke-width="0.1" font-size="9.8" textLength="52.5" lengthAdjust="spacing">5 Nov 01:00</text>
<text x="514" y="595" fill="#000" stroke="#000" stroke-width="0.1" font-size="9.8" textLength="52.5" lengthAdjust="spacing">5 Nov 17:00</text>
<text x="578" y="595" fill="#000" stroke="#000" stroke-width="0.1" font-size="9.8" textLength="52.5" lengthAdjust="spacing">6 Nov 09:00</text>
<text x="642" y="595" fill="#000" stroke="#000" stroke-width="0.1" font-size="9.8" textLength="52.5" lengthAdjust="spacing">7 Nov 01:00</text>
<text x="706" y="595" fill="#000" stroke="#000" stroke-width="0.1" font-size="9.8" textLength="52.5" lengthAdjust="spacing">7 Nov 17:00</text>
<rect x="5" y="5" width="197" height="11" fill="#fff" shape-rendering="crispEdges"/>
<path d="M6,9 L13,9 L9.5,13 Z" fill="#000" shape-rendering="crispEdges"/>
<text x="18.5" y="14" fill="#000" stroke="#000" stroke-width="0.1" font-size="9.8" textLength="55" lengthAdjust="spacing">AUDUSD,H1</text>
<text x="80.2" y="14" fill="#000" stroke="#000" stroke-width="0.1" font-size="9.8" textLength="120.5" lengthAdjust="spacing">0.8642 0.8650 0.8641 0.8641</text>
<text x="7" y="480" fill="#000" stroke="#000" stroke-width="0.1" font-size="9.8" textLength="137.5" lengthAdjust="spacing">MACD(12,26,9) 0.00152 0.00101</text>
<text x="6.8" y="578" fill="#000" stroke="#000" stroke-width="0.1" font-size="9.8" textLength="247.5" lengthAdjust="spacing">MT4 TeleTrade, © 2001-2014, MetaQuotes Software Corp.</text>
</svg></body></html>
